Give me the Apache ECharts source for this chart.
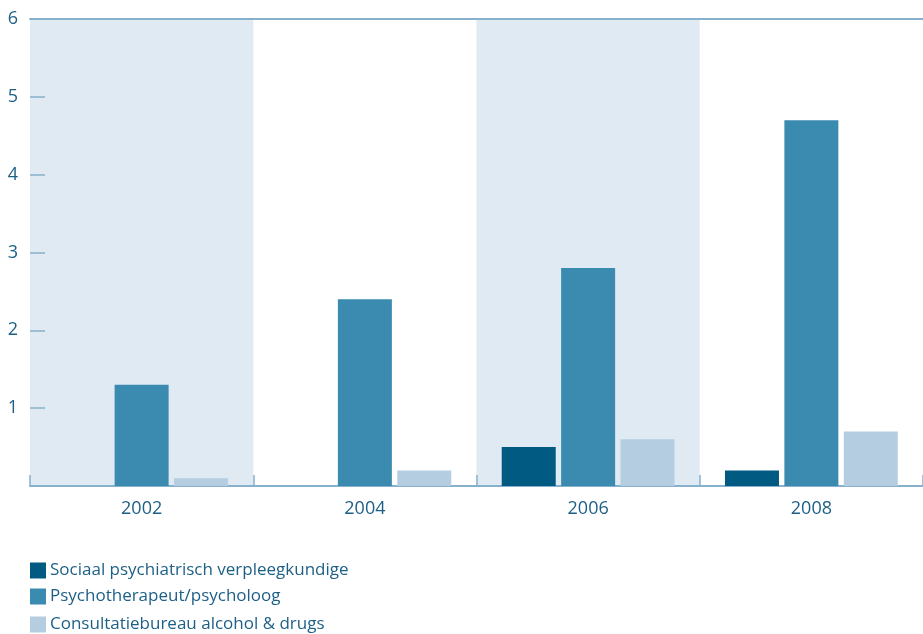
<!DOCTYPE html>
<html>
<head>
<meta charset="utf-8">
<script src="https://cdn.jsdelivr.net/npm/echarts@6/dist/echarts.min.js"></script>
<style>
html,body{margin:0;padding:0;background:#fff;}
#c{width:923px;height:634px;}
</style>
</head>
<body>
<div id="c"></div>
<script>
const years = ['2002', '2004', '2006', '2008'];
const sociaal = [null, null, 0.5, 0.2];
const psycho = [1.3, 2.4, 2.8, 4.7];
const consult = [0.1, 0.2, 0.6, 0.7];
const yTicks = [0, 1, 2, 3, 4, 5, 6];
const seriesNames = ['Sociaal psychiatrisch verpleegkundige', 'Psychotherapeut/psycholoog', 'Consultatiebureau alcohol & drugs'];

const FONT = '"Open Sans", "Noto Sans", sans-serif';
const TXT = '#1d5f86';
const AX = '#86b0cc';

const legendTops = [562, 588, 616];
const legends = seriesNames.map((n, i) => ({
  left: 25,
  top: legendTops[i] - 5,
  itemWidth: 16,
  itemHeight: 16,
  icon: 'rect',
  textStyle: {fontFamily: FONT, fontSize: 17, color: TXT, padding: [0, 0, 0, -1]},
  data: [n]
}));

const chart = echarts.init(document.getElementById('c'), null, {renderer: 'canvas'});
chart.setOption({
  animation: false,
  textStyle: {fontFamily: FONT},
  color: ['#005a82', '#3b8bb0', '#b5cde0'],
  grid: {left: 30, width: 895, top: 19, height: 467, containLabel: false},
  legend: legends,
  xAxis: [{
    type: 'category',
    data: years,
    axisLine: {show: true, lineStyle: {color: AX, width: 2}},
    axisTick: {show: true, inside: true, length: 11, lineStyle: {color: AX, width: 1.5}},
    axisLabel: {fontFamily: FONT, fontSize: 18, color: TXT, margin: 14},
    splitArea: {show: true, areaStyle: {color: ['#e0eaf3', 'rgba(255,255,255,0)']}},
    splitLine: {show: false}
  }, {
    type: 'category',
    data: years,
    position: 'top',
    axisLine: {show: true, lineStyle: {color: AX, width: 2}},
    axisTick: {show: false},
    axisLabel: {show: false}
  }],
  yAxis: {
    type: 'value',
    min: 0,
    max: 6,
    interval: 1,
    axisLine: {show: false},
    axisTick: {show: true, inside: true, length: 15, lineStyle: {color: AX, width: 1.5}},
    axisLabel: {fontFamily: FONT, fontSize: 18, color: TXT, margin: 12,
      formatter: v => yTicks.includes(v) && v !== 0 ? String(v) : ''},
    splitLine: {show: false}
  },
  series: [
    {name: seriesNames[0], type: 'bar', data: sociaal, barWidth: 54, barGap: '10%'},
    {name: seriesNames[1], type: 'bar', data: psycho, barWidth: 54, barGap: '10%'},
    {name: seriesNames[2], type: 'bar', data: consult, barWidth: 54, barGap: '10%'}
  ]
});
</script>
</body>
</html>
